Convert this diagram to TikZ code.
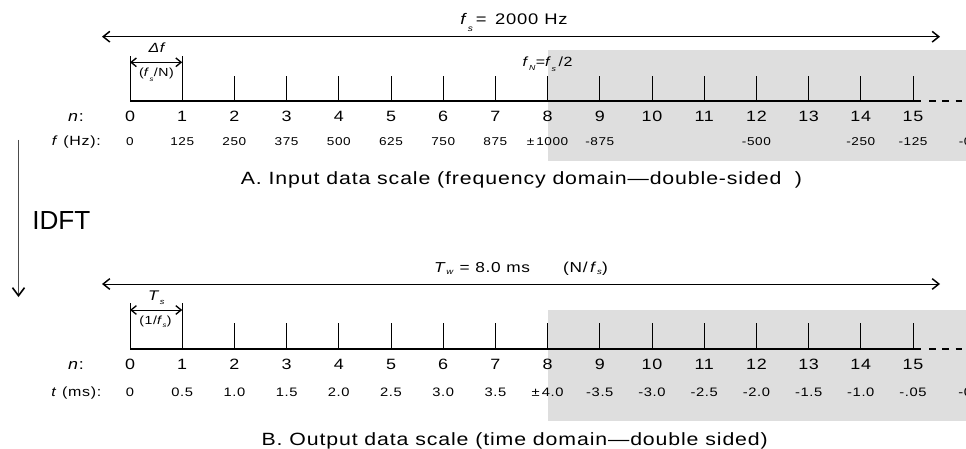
\documentclass[tikz,border=0pt]{standalone}
\usepackage{fontspec}
\setmainfont{Liberation Sans}[FakeStretch=1.2,LetterSpace=5]
\newfontfamily\plainsans{Liberation Sans}
\usetikzlibrary{arrows.meta,calc}
\definecolor{bandgray}{HTML}{DEDEDE}
% letter with a dropped, shrunken subscript
\newcommand{\subsc}[3][0.35em]{#2\raisebox{-#1}{\scalebox{0.55}{#3}}}
\newcommand{\fsz}[1]{\fontsize{#1}{#1}\selectfont}

\tikzset{
  axisline/.style={line width=0.8pt},
  tickline/.style={line width=0.65pt},
  barb/.style={line width=0.7pt,{Straight Barb[length=5pt,width=8pt,line width=1.1pt]}-{Straight Barb[length=5pt,width=8pt,line width=1.1pt]}},
  smallbarb/.style={line width=0.7pt,{Straight Barb[length=4pt,width=6.5pt,line width=1pt]}-{Straight Barb[length=4pt,width=6.5pt,line width=1pt]}},
  numlabel/.style={font=\fsz{11.2},inner sep=0pt,anchor=base},
  vallabel/.style={font=\fsz{8.5},inner sep=0pt,anchor=base},
  rowlabel/.style={font=\fsz{10},inner sep=0pt,anchor=base east},
  caption/.style={font=\fsz{13.3},inner sep=0pt,anchor=base},
}

\begin{document}
\begin{tikzpicture}[x=0.75pt,y=-0.75pt]
\useasboundingbox (0,0) rectangle (966,449);

% shaded upper half of each scale
\fill[bandgray] (548,50) rectangle (966,161);
\fill[bandgray] (548,310) rectangle (966,421);

%% A: frequency scale
\foreach \n in {0,...,15} {
  \coordinate (fq\n) at ({130+52.2*\n},101);
  \draw[tickline] (fq\n) -- ++(0,-25);
  \node[numlabel] (fqn\n) at ({130+52.2*\n},121.5) {\n};
}
\draw[tickline] (fq0) -- ++(0,-45) (fq1) -- ++(0,-45);
\draw[axisline] (fq0) -- ++(791,0) coordinate (fqend);
\draw[axisline,dash pattern=on 5pt off 5pt] ($(fqend)+(8,0)$) -- ++(60,0);
\foreach \n/\v in {0/0,1/125,2/250,3/375,4/500,5/625,6/750,7/875,8/±\,1000,9/-875,12/-500,14/-250,15/-125,16/-0}
  \node[vallabel] (fqv\n) at ({130+52.2*\n},145.7) {\v};
\node[rowlabel,font=\fsz{11.2}] (fqnlab) at (84,121.5) {\textit{n}:};
\node[rowlabel] (fqvlab) at (101,145.7) {\textit{f} (Hz):};

\coordinate (fsL) at (102,36.7);
\coordinate (fsR) at (940,36.7);
\draw[barb] (fsL) -- (fsR);
\node[font=\fsz{11.5},inner sep=0pt,anchor=base] (fslab) at (514,25)
  {\subsc[0.4em]{\textit{f}}{\textit{s}}\,=\, 2000 Hz};

\coordinate (dfL) at ($(fq0)+(0,-38.7)$);
\coordinate (dfR) at ($(fq1)+(0,-38.7)$);
\draw[smallbarb] (dfL) -- (dfR);
\node[font=\fsz{10}\itshape,inner sep=0pt,anchor=base] (dflab) at (156.5,52.3) {Δf};
\node[font=\fsz{8.8},inner sep=0pt,anchor=base] (dfsub) at (156.5,77) {(\subsc{\textit{f}}{\textit{s}}/N)};
\node[font=\fsz{10},inner sep=0pt,anchor=base] (fnlab) at (547.6,66.5)
  {\subsc[0.3em]{\textit{f}}{\textit{N}}=\subsc{\textit{f}}{\textit{s}}\,/2};

\node[caption] (capA) at (521.5,184.3) {A. Input data scale (frequency domain—double-sided\ \ )};

%% transform arrow
\node[font=\plainsans\fsz{19.6},inner sep=0pt,anchor=base west] (idft) at (32,229.3) {IDFT};
\coordinate (xfTop) at (18.5,140);
\coordinate (xfBot) at (18.5,297);
\draw[line width=0.8pt,black!70,-{Straight Barb[length=6pt,width=9pt,line width=1.2pt,color=black]}] (xfTop) -- (xfBot);

%% B: time scale
\foreach \n in {0,...,15} {
  \coordinate (tm\n) at ({130+52.2*\n},349);
  \draw[tickline] (tm\n) -- ++(0,-26);
  \node[numlabel] (tmn\n) at ({130+52.2*\n},369) {\n};
}
\draw[tickline] (tm0) -- ++(0,-46) (tm1) -- ++(0,-46);
\draw[axisline] (tm0) -- ++(791,0) coordinate (tmend);
\draw[axisline,dash pattern=on 5pt off 5pt] ($(tmend)+(8,0)$) -- ++(60,0);
\foreach \n/\v in {0/0,1/0.5,2/1.0,3/1.5,4/2.0,5/2.5,6/3.0,7/3.5,8/±\,4.0,9/-3.5,10/-3.0,11/-2.5,12/-2.0,13/-1.5,14/-1.0,15/-.05,16/-0}
  \node[vallabel,font=\fsz{9.2}] (tmv\n) at ({130+52.2*\n},396) {\v};
\node[rowlabel,font=\fsz{11.2}] (tmnlab) at (84,369) {\textit{n}:};
\node[rowlabel] (tmvlab) at (101.5,396) {\textit{t} (ms):};

\coordinate (twL) at (102,284);
\coordinate (twR) at (940,284);
\draw[barb] (twL) -- (twR);
\node[font=\fsz{10.8},inner sep=0pt,anchor=base] (twlab) at (521,272.7)
  {\subsc[0.1em]{\textit{T}}{\textit{w}}\ =\ 8.0 ms\hspace{2.3em}(N/\,\subsc[0.15em]{\textit{f}}{\textit{s}})};

\coordinate (tsL) at ($(tm0)+(0,-39)$);
\coordinate (tsR) at ($(tm1)+(0,-39)$);
\draw[smallbarb] (tsL) -- (tsR);
\node[font=\fsz{10.5},inner sep=0pt,anchor=base] (tslab) at (156.5,300.5) {\subsc[0.3em]{\textit{T}}{\textit{s}}};
\node[font=\fsz{8.8},inner sep=0pt,anchor=base] (tssub) at (155.5,324) {(1/\subsc[0.3em]{\textit{f}}{\textit{s}})};

\node[caption] (capB) at (514.7,445) {B. Output data scale (time domain—double sided)};
\end{tikzpicture}
\end{document}
